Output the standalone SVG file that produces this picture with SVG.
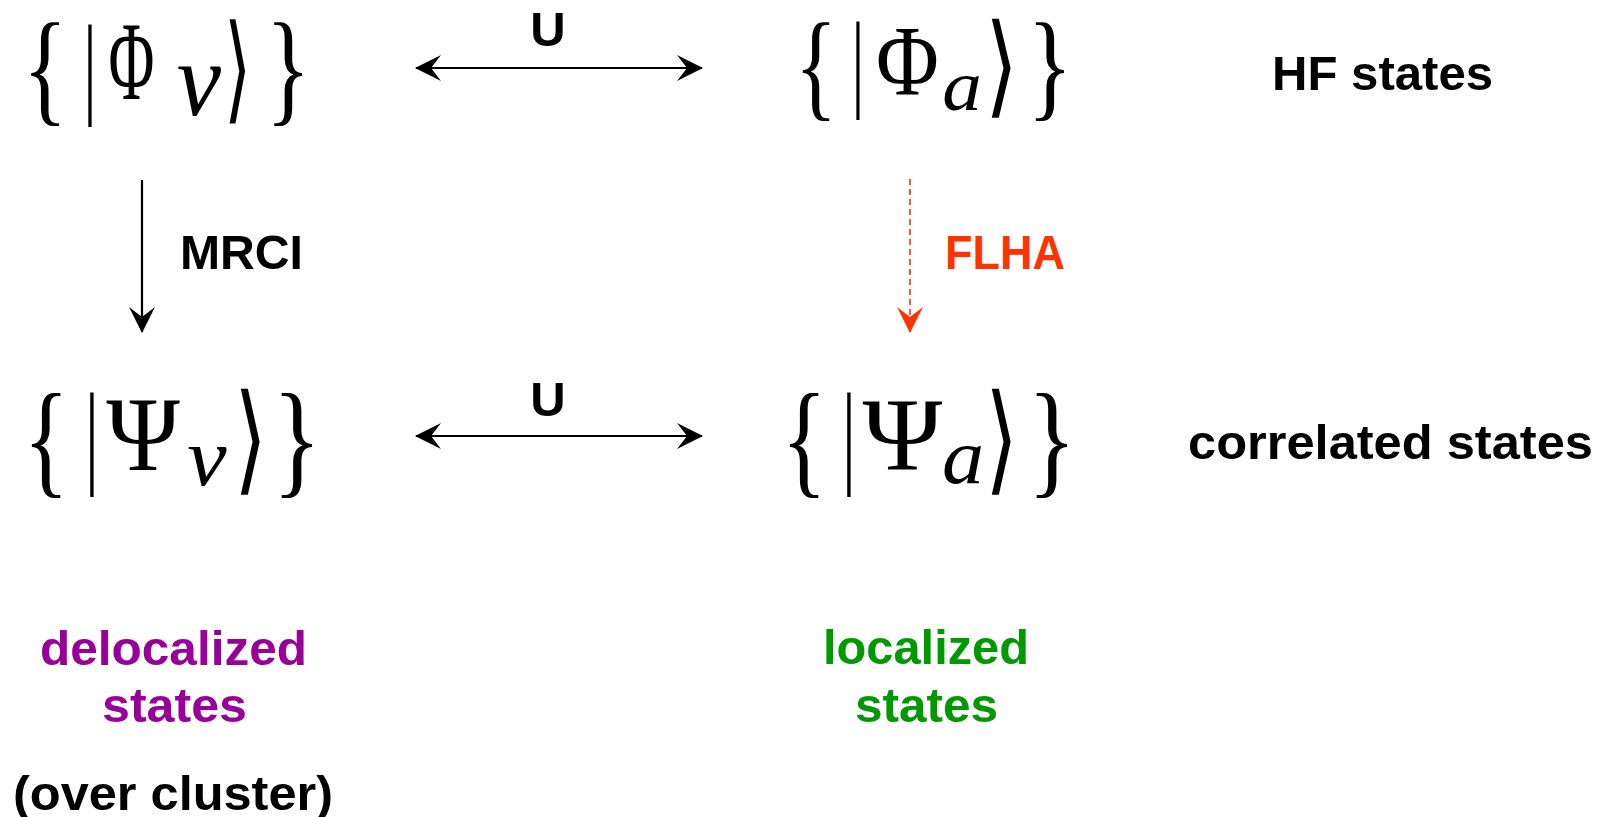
<svg xmlns="http://www.w3.org/2000/svg" width="1609" height="817" viewBox="0 0 1609 817">
<style>
.m{font-family:"Liberation Serif","Times New Roman",serif;fill:#000;text-anchor:middle}
.mi{font-family:"Liberation Serif","Times New Roman",serif;font-style:italic;fill:#000;text-anchor:middle}
.ang{font-family:"DejaVu Sans",sans-serif;font-weight:200;fill:#000;text-anchor:middle}
.lb{font-family:"Liberation Sans",Arial,sans-serif;font-weight:bold;font-size:49px}
.blk{fill:#000}
.pur{fill:#990099}
.grn{fill:#009900}
.red{fill:#ff3300}
.conn{fill:none;stroke:#000;stroke-width:2.2}
.dash{fill:none;stroke:#ff3300;stroke-width:1.6;stroke-dasharray:6 4}
</style>
<defs>
<marker id="ah" markerUnits="userSpaceOnUse" viewBox="0 0 26 26" markerWidth="26" markerHeight="26" refX="25" refY="13" orient="auto-start-reverse">
<path d="M26,13 L0,0 L10,13 L0,26 Z" fill="#000"/>
</marker>
<marker id="ahr" markerUnits="userSpaceOnUse" viewBox="0 0 26 26" markerWidth="26" markerHeight="26" refX="25" refY="13" orient="auto">
<path d="M26,13 L0,0 L10,13 L0,26 Z" fill="#ff3300"/>
</marker>
</defs>
<rect width="1609" height="817" fill="#fff"/>

<g id="connectors">
<line class="conn" x1="416" y1="68" x2="702" y2="68" marker-start="url(#ah)" marker-end="url(#ah)"/>
<line class="conn" x1="416" y1="436" x2="702" y2="436" marker-start="url(#ah)" marker-end="url(#ah)"/>
<line class="conn" x1="142" y1="180" x2="142" y2="332" marker-end="url(#ah)"/>
<line class="dash" x1="910" y1="179" x2="910" y2="332" marker-end="url(#ahr)"/>
<text class="lb blk" x="548" y="46" text-anchor="middle" font-size="47">U</text>
<text class="lb blk" x="548" y="416" text-anchor="middle" font-size="47">U</text>
<text class="lb blk" x="180" y="269" textLength="123" lengthAdjust="spacingAndGlyphs">MRCI</text>
<text class="lb red" x="945" y="269" textLength="120" lengthAdjust="spacingAndGlyphs">FLHA</text>
</g>

<g id="phi-nu">
<text class="m" font-size="124" transform="translate(45,109) scale(0.75,1)">{</text>
<text class="m" font-size="112" transform="translate(90,103) scale(0.6,1)">|</text>
<text class="m" font-size="112" transform="translate(131.5,99) scale(0.56,1)">Φ</text>
<text class="mi" font-size="105" transform="translate(199,115) scale(0.95,1)">ν</text>
<text class="ang" font-size="100" transform="translate(237.5,108) scale(0.7,1.17)">⟩</text>
<text class="m" font-size="124" transform="translate(288,109) scale(0.75,1)">}</text>
</g>

<g id="phi-a">
<text class="m" font-size="118" transform="translate(816,105) scale(0.75,1)">{</text>
<text class="m" font-size="107" transform="translate(858,97) scale(0.6,1)">|</text>
<text class="m" font-size="100" transform="translate(907.5,94) scale(0.86,1)">Φ</text>
<text class="mi" font-size="72" transform="translate(962,110) scale(1.1,1)">a</text>
<text class="ang" font-size="100" transform="translate(1001.5,103) scale(0.85,1.11)">⟩</text>
<text class="m" font-size="118" transform="translate(1050,105) scale(0.8,1)">}</text>
</g>

<g id="psi-nu">
<text class="m" font-size="127" transform="translate(46,481) scale(0.75,1)">{</text>
<text class="m" font-size="115" transform="translate(92,473) scale(0.6,1)">|</text>
<text class="m" font-size="105" transform="translate(143,470) scale(0.95,1)">Ψ</text>
<text class="mi" font-size="82" transform="translate(207,485) scale(1.08,1)">ν</text>
<text class="ang" font-size="100" transform="translate(250,479) scale(0.85,1.19)">⟩</text>
<text class="m" font-size="127" transform="translate(297,481) scale(0.8,1)">}</text>
</g>

<g id="psi-a">
<text class="m" font-size="127" transform="translate(804,481) scale(0.75,1)">{</text>
<text class="m" font-size="115" transform="translate(849,473) scale(0.6,1)">|</text>
<text class="m" font-size="103" transform="translate(902.5,470) scale(1.05,1)">Ψ</text>
<text class="mi" font-size="78" transform="translate(963,483) scale(1.08,1)">a</text>
<text class="ang" font-size="100" transform="translate(1001.5,479) scale(0.85,1.19)">⟩</text>
<text class="m" font-size="127" transform="translate(1052,481) scale(0.8,1)">}</text>
</g>

<g id="hf-states">
<text class="lb blk" x="1272" y="90" textLength="221" lengthAdjust="spacingAndGlyphs">HF states</text>
</g>
<g id="correlated-states">
<text class="lb blk" x="1188" y="459" textLength="405" lengthAdjust="spacingAndGlyphs">correlated states</text>
</g>
<g id="delocalized">
<text class="lb pur" x="40" y="665" textLength="267" lengthAdjust="spacingAndGlyphs">delocalized</text>
<text class="lb pur" x="102" y="722" textLength="145" lengthAdjust="spacingAndGlyphs">states</text>
<text class="lb blk" x="13" y="810" textLength="320" lengthAdjust="spacingAndGlyphs">(over cluster)</text>
</g>
<g id="localized">
<text class="lb grn" x="823" y="664" textLength="206" lengthAdjust="spacingAndGlyphs">localized</text>
<text class="lb grn" x="855" y="722" textLength="143" lengthAdjust="spacingAndGlyphs">states</text>
</g>
</svg>
